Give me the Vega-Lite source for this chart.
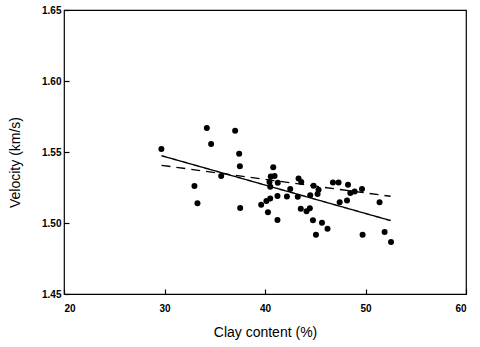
{
  "$schema": "https://vega.github.io/schema/vega-lite/v6.json",
  "width": 402,
  "height": 284,
  "autosize": "none",
  "padding": {"left": 64, "top": 10, "right": 14, "bottom": 53},
  "background": "white",
  "datasets": {
    "points": [
      {"clay": 29.69, "vel": 1.5521},
      {"clay": 34.21, "vel": 1.5669},
      {"clay": 34.64, "vel": 1.5556},
      {"clay": 35.64, "vel": 1.5331},
      {"clay": 32.98, "vel": 1.5261},
      {"clay": 33.28, "vel": 1.5139},
      {"clay": 37.03, "vel": 1.5650},
      {"clay": 37.43, "vel": 1.5488},
      {"clay": 37.50, "vel": 1.5399},
      {"clay": 37.53, "vel": 1.5106},
      {"clay": 40.82, "vel": 1.5393},
      {"clay": 40.57, "vel": 1.5328},
      {"clay": 40.95, "vel": 1.5331},
      {"clay": 40.45, "vel": 1.5288},
      {"clay": 41.27, "vel": 1.5284},
      {"clay": 40.52, "vel": 1.5256},
      {"clay": 42.51, "vel": 1.5240},
      {"clay": 43.34, "vel": 1.5314},
      {"clay": 43.61, "vel": 1.5288},
      {"clay": 41.24, "vel": 1.5191},
      {"clay": 42.18, "vel": 1.5186},
      {"clay": 43.26, "vel": 1.5184},
      {"clay": 40.52, "vel": 1.5173},
      {"clay": 40.14, "vel": 1.5155},
      {"clay": 39.62, "vel": 1.5129},
      {"clay": 40.29, "vel": 1.5075},
      {"clay": 41.24, "vel": 1.5022},
      {"clay": 43.56, "vel": 1.5100},
      {"clay": 44.13, "vel": 1.5083},
      {"clay": 44.46, "vel": 1.5103},
      {"clay": 44.83, "vel": 1.5263},
      {"clay": 45.33, "vel": 1.5235},
      {"clay": 45.23, "vel": 1.5205},
      {"clay": 44.50, "vel": 1.5196},
      {"clay": 46.76, "vel": 1.5286},
      {"clay": 47.32, "vel": 1.5286},
      {"clay": 48.26, "vel": 1.5270},
      {"clay": 48.49, "vel": 1.5212},
      {"clay": 48.92, "vel": 1.5221},
      {"clay": 49.65, "vel": 1.5240},
      {"clay": 47.43, "vel": 1.5146},
      {"clay": 48.16, "vel": 1.5158},
      {"clay": 51.40, "vel": 1.5146},
      {"clay": 44.77, "vel": 1.5019},
      {"clay": 45.67, "vel": 1.5001},
      {"clay": 46.22, "vel": 1.4959},
      {"clay": 45.07, "vel": 1.4918},
      {"clay": 49.71, "vel": 1.4918},
      {"clay": 51.90, "vel": 1.4937},
      {"clay": 52.54, "vel": 1.4867}
    ],
    "fits": [
      {"fit": "solid", "clay": 29.7, "vel": 1.5474},
      {"fit": "solid", "clay": 52.5, "vel": 1.5017},
      {"fit": "dashed", "clay": 29.7, "vel": 1.5406},
      {"fit": "dashed", "clay": 52.5, "vel": 1.5188}
    ]
  },
  "config": {
    "view": {"stroke": "black", "strokeWidth": 1.2},
    "axis": {
      "grid": false,
      "domain": false,
      "ticks": true,
      "tickColor": "black",
      "tickSize": -5,
      "tickWidth": 1.2,
      "labelFont": "Liberation Sans",
      "labelFontWeight": "bold",
      "labelFontSize": 10,
      "labelColor": "black",
      "titleFont": "Liberation Sans",
      "titleFontWeight": "normal",
      "titleFontSize": 14,
      "titleColor": "black"
    }
  },
  "layer": [
    {
      "data": {"name": "fits"},
      "mark": {"type": "line", "color": "black", "strokeWidth": 1.4},
      "encoding": {
        "x": {"field": "clay", "type": "quantitative"},
        "y": {"field": "vel", "type": "quantitative"},
        "detail": {"field": "fit"},
        "strokeDash": {
          "field": "fit",
          "type": "nominal",
          "scale": {"domain": ["solid", "dashed"], "range": [[1, 0], [9, 6]]},
          "legend": null
        }
      }
    },
    {
      "data": {"name": "points"},
      "mark": {"type": "circle", "color": "black", "opacity": 1, "size": 36},
      "encoding": {
        "x": {
          "field": "clay",
          "type": "quantitative",
          "scale": {"domain": [20, 60], "nice": false, "zero": false},
          "axis": {"title": "Clay content (%)", "values": [20, 30, 40, 50, 60], "labelPadding": 14, "titlePadding": 12}
        },
        "y": {
          "field": "vel",
          "type": "quantitative",
          "scale": {"domain": [1.45, 1.65], "nice": false, "zero": false},
          "axis": {"title": "Velocity  (km/s)", "values": [1.45, 1.5, 1.55, 1.6, 1.65], "format": ".2f", "labelPadding": 8, "titlePadding": 19, "titleY": 152}
        }
      }
    }
  ]
}
